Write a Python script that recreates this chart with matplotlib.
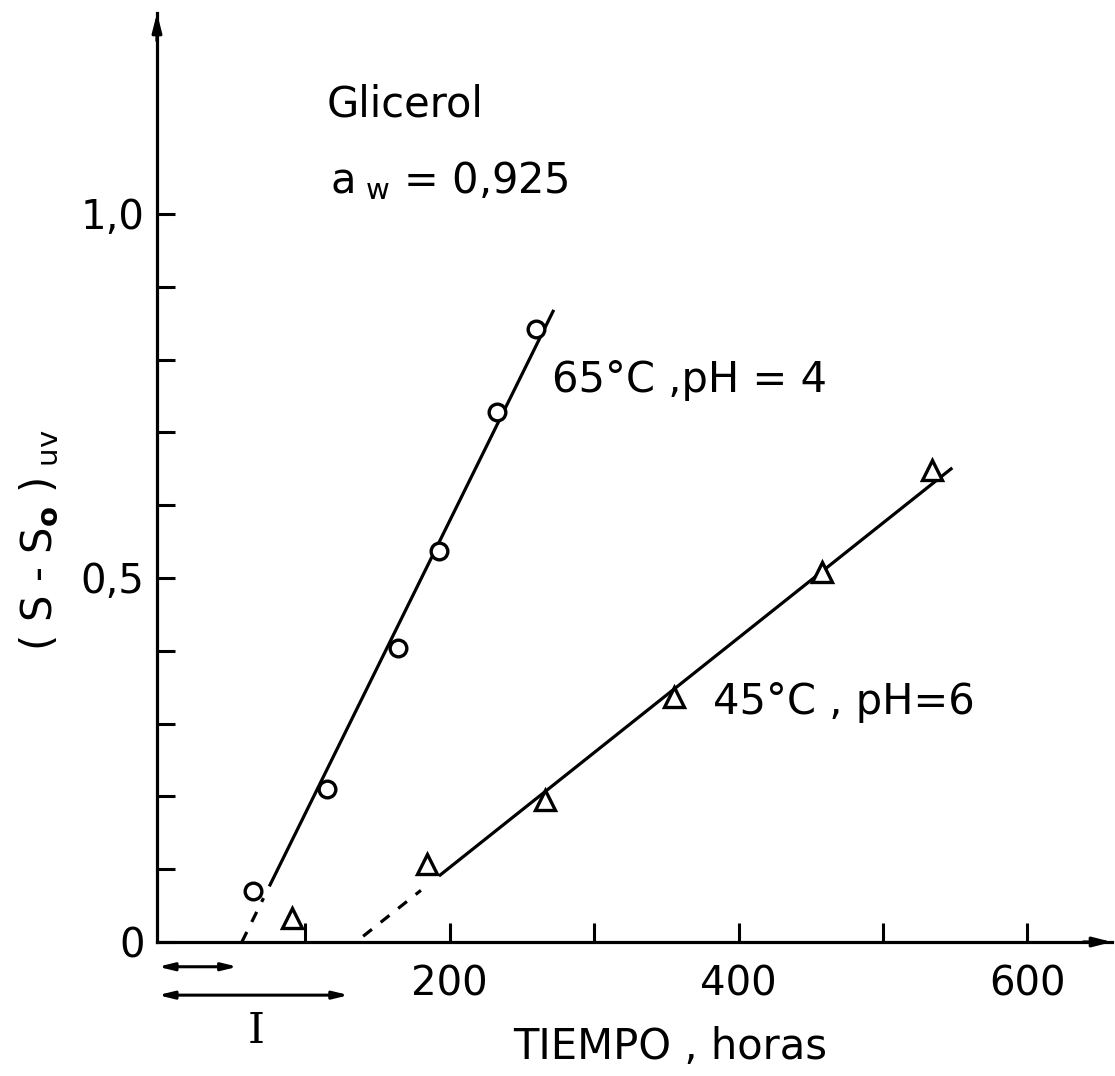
import matplotlib
matplotlib.use("Agg")
import matplotlib.pyplot as plt
import numpy as np

# ---- data ----
time_65 = [64, 115, 164, 192.5, 233, 260]
s_65 = [0.070, 0.210, 0.404, 0.537, 0.728, 0.842]
time_45 = [91, 184, 266, 355, 458, 534]
s_45 = [0.033, 0.107, 0.195, 0.337, 0.508, 0.648]

# fitted lines: lag time (x-intercept, h) and slope (per h)
lag_65, slope_65 = 56.0, 0.00402
solid_65 = [75, 272]
dashed_65 = [56, 71]
lag_45, slope_45 = 135.0, 0.001577
solid_45 = [192.5, 548]
dashed_45 = [140, 180]

induction = [53, 130]

x_ticks = [100, 200, 300, 400, 500, 600]
x_labels = ["", "200", "", "400", "", "600"]
y_major = [0.0, 0.5, 1.0]
y_labels = ["0", "0,5", "1,0"]
y_minor = [0.1, 0.2, 0.3, 0.4, 0.6, 0.7, 0.8, 0.9]

plt.rcParams['font.family'] = ['DejaVu Sans']
plt.rcParams['mathtext.fontset'] = 'dejavusans'

W, H = 1115, 1076
fig = plt.figure(figsize=(W / 100, H / 100), dpi=100)

# axes placement (pixels): y-axis at 157, x=0 at 161, 1.444 px/h; y=0 at 942, 728 px/unit
px_per_h = 1.444
px_per_u = 728.0
x0_px, y0_px = 161, 942
left_px, right_px, top_px = 157, 1112, 13
ax = fig.add_axes([left_px / W, (H - y0_px) / H, (right_px - left_px) / W, (y0_px - top_px) / H])
ax.set_xlim((left_px - x0_px) / px_per_h, (right_px - x0_px) / px_per_h)
ax.set_ylim(0, (y0_px - top_px) / px_per_u)

for s in ['top', 'right']:
    ax.spines[s].set_visible(False)
for s in ['left', 'bottom']:
    ax.spines[s].set_linewidth(2.3)

# axis arrows
ax.annotate('', xy=(1.0, 0), xytext=(0.97, 0), xycoords='axes fraction',
            arrowprops=dict(arrowstyle='-|>,head_length=1.1,head_width=0.28', color='k', lw=2.3,
                            shrinkA=0, shrinkB=0), annotation_clip=False)
ax.annotate('', xy=(0, 1.0), xytext=(0, 0.97), xycoords='axes fraction',
            arrowprops=dict(arrowstyle='-|>,head_length=1.1,head_width=0.28', color='k', lw=2.3,
                            shrinkA=0, shrinkB=0), annotation_clip=False)

# ticks
ax.set_xticks(x_ticks)
ax.set_xticklabels(x_labels)
ax.set_yticks(y_major)
ax.set_yticklabels(y_labels)
ax.set_yticks(y_minor, minor=True)
ax.tick_params(axis='both', which='both', direction='in', width=2.2, labelsize=29)
ax.tick_params(axis='y', which='both', length=13, pad=9)
ax.tick_params(axis='x', which='both', length=13.5, pad=16)

# fitted lines
def line_y(x, lag, slope):
    return slope * (np.asarray(x, dtype=float) - lag)

ax.plot(solid_65, line_y(solid_65, lag_65, slope_65), color='k', lw=2.3, solid_capstyle='butt')
ax.plot(dashed_65, line_y(dashed_65, lag_65, slope_65), color='k', lw=2.3, dashes=(3.5, 3.5))
ax.plot(solid_45, line_y(solid_45, lag_45, slope_45), color='k', lw=2.3, solid_capstyle='butt')
ax.plot(dashed_45, line_y(dashed_45, lag_45, slope_45), color='k', lw=2.3, dashes=(3.5, 3.5))

# markers
ax.plot(time_65, s_65, linestyle='none', marker='o', markersize=12, markerfacecolor='white',
        markeredgecolor='k', markeredgewidth=2.4, zorder=5)
ax.plot(time_45, s_45, linestyle='none', marker='^', markersize=14, markerfacecolor='white',
        markeredgecolor='k', markeredgewidth=2.4, zorder=5)

# induction period arrows
arrow_y = [-0.034, -0.073]
for xe, ya in zip(induction, arrow_y):
    ax.annotate('', xy=(xe, ya), xytext=(-2, ya), xycoords='data',
                arrowprops=dict(arrowstyle='<|-|>,head_length=0.9,head_width=0.22', color='k', lw=2.2,
                                shrinkA=0, shrinkB=0), annotation_clip=False)
ax.text(66, -0.122, 'I', family='DejaVu Serif', fontsize=31, ha='center', va='center', clip_on=False)

# texts
ax.text(115, 1.15, 'Glicerol', fontsize=30, ha='left', va='center')
ax.text(117, 1.029, r'a$_{\ \mathrm{w}}$ = 0,925', fontsize=30, ha='left', va='baseline')
ax.text(270.8, 0.772, '65°C ,pH = 4', fontsize=30, ha='left', va='center')
ax.text(382, 0.330, '45°C , pH=6', fontsize=30, ha='left', va='center')

ax.text(352.5, -0.144, 'TIEMPO , horas', fontsize=30, ha='center', va='center', clip_on=False)
fig.text(40 / W, 1 - 540 / H, r'( S - S$_{\mathbf{o}}$ )$_{\ \mathrm{uv}}$',
         fontsize=30, rotation=90, ha='center', va='center')

fig.savefig('out.png', dpi=100, facecolor='white')
